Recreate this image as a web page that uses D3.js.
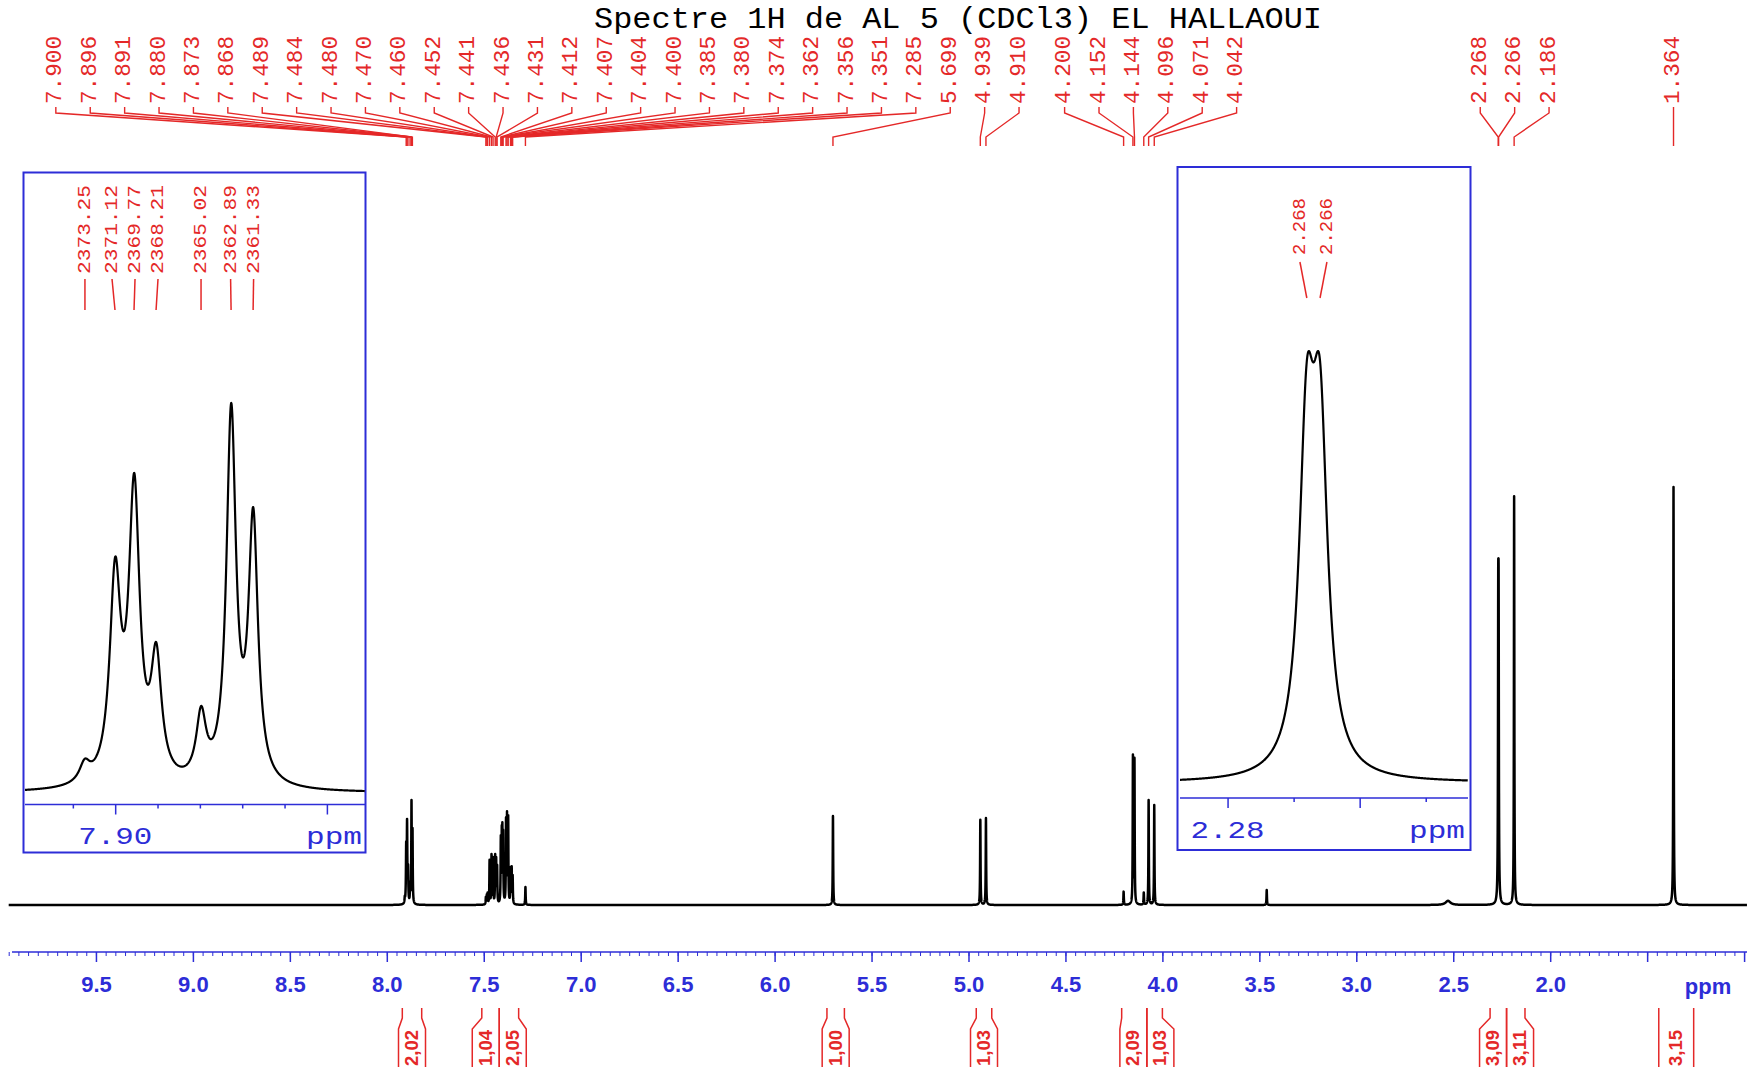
<!DOCTYPE html>
<html>
<head>
<meta charset="utf-8">
<script src="https://cdnjs.cloudflare.com/ajax/libs/d3/7.8.5/d3.min.js"></script>
<style>
body{margin:0;background:#fff;}
svg{display:block;}
</style>
</head>
<body>
<script>
var width = 1747, height = 1067;

var title = "Spectre 1H de AL 5 (CDCl3) EL HALLAOUI";
var sf = 300.14; // spectrometer freq, MHz

// peak list: shift (ppm), apparent height (a.u., singlet at 1.364 = 100), line width (ppm)
var peak_ppm = [7.9072, 7.9000, 7.8955, 7.8903, 7.8797, 7.8726, 7.8674,
	7.489, 7.484, 7.480, 7.470, 7.460, 7.452, 7.441, 7.436, 7.431,
	7.412, 7.407, 7.404, 7.400, 7.385, 7.380, 7.374, 7.362, 7.356, 7.351, 7.285,
	5.699, 4.939, 4.910, 4.200, 4.152, 4.144, 4.096, 4.071, 4.042,
	3.462, 2.527, 2.268, 2.266, 2.186, 1.364];
var peak_height = [2.2, 15.2, 20.6, 9.7, 5.6, 25.1, 18.4,
	2.0, 2.6, 3.0, 10.8, 12.2, 11.5, 12.2, 11.5, 9.6,
	16.7, 19.1, 19.8, 18.0, 21.0, 22.4, 21.5, 9.1, 9.3, 7.2, 4.3,
	21.3, 20.4, 20.8, 3.2, 36.0, 35.2, 3.0, 25.1, 23.9,
	3.6, 1.0, 81.1, 81.1, 97.8, 100];
var peak_width = [0.0030, 0.0031, 0.0031, 0.0030, 0.0028, 0.0027, 0.0027,
	0.0026, 0.0026, 0.0026, 0.0026, 0.0026, 0.0026, 0.0026, 0.0026, 0.0026,
	0.0026, 0.0026, 0.0026, 0.0026, 0.0026, 0.0026, 0.0026, 0.0026, 0.0026, 0.0026, 0.0026,
	0.0026, 0.0026, 0.0026, 0.0026, 0.0026, 0.0026, 0.0026, 0.0026, 0.0026,
	0.0026, 0.03, 0.0028, 0.0028, 0.0026, 0.0026];

var top_labels = ["7.900","7.896","7.891","7.880","7.873","7.868","7.489","7.484","7.480","7.470",
	"7.460","7.452","7.441","7.436","7.431","7.412","7.407","7.404","7.400","7.385","7.380","7.374",
	"7.362","7.356","7.351","7.285","5.699","4.939","4.910","4.200","4.152","4.144","4.096","4.071",
	"4.042","2.268","2.266","2.186","1.364"];

var inset1_hz = ["2373.25","2371.12","2369.77","2368.21","2365.02","2362.89","2361.33"];
var inset1_ticks = [7.91, 7.90, 7.89, 7.88, 7.87, 7.86, 7.85];
var inset1_major = [7.90, 7.85];
var inset1_tick_label = "7.90";

var inset2_labels = ["2.268","2.266"];
var inset2_ticks = [2.28, 2.27, 2.26, 2.25];
var inset2_major = [2.28, 2.26];
var inset2_tick_label = "2.28";

var axis_labels = ["9.5","9.0","8.5","8.0","7.5","7.0","6.5","6.0","5.5","5.0","4.5","4.0","3.5","3.0","2.5","2.0"];

var integral_from  = [7.92, 7.51, 7.42, 5.73, 4.96, 4.21, 4.08, 2.31, 2.225, 1.44];
var integral_to    = [7.82, 7.42, 7.32, 5.64, 4.88, 4.08, 4.00, 2.225, 2.13, 1.26];
var integral_value = ["2,02","1,04","2,05","1,00","1,03","2,09","1,03","3,09","3,11","3,15"];

var red = "rgb(228,40,40)", blue = "rgb(45,45,215)";

// ---- line shape ----
var amp = peak_height.slice();
function lor(p, c, w){ var t = 2*(p-c)/w; return 1/(1+t*t); }
function spec(p){
	var s = 0;
	for (var i=0;i<peak_ppm.length;i++){ s += amp[i]*lor(p, peak_ppm[i], peak_width[i]); }
	return s;
}
// adjust amplitudes so that summed curve hits the read heights
for (var it=0; it<80; it++){
	var cur = peak_ppm.map(spec);
	for (var i=0;i<amp.length;i++){ amp[i] = Math.max(0, amp[i] + 0.7*(peak_height[i]-cur[i])); }
}

var svg = d3.select("body").append("svg").attr("width", width).attr("height", height);
svg.append("rect").attr("width", width).attr("height", height).attr("fill", "#fff");

var xMain = d3.scaleLinear().domain([10.0, 0.985]).range([-1, 1747]);
var yMain = d3.scaleLinear().domain([0, 100]).range([905, 487]);

// title
svg.append("text").attr("x", 958).attr("y", 28).attr("text-anchor", "middle")
	.attr("font-family", "Liberation Mono, monospace").attr("font-size", 30)
	.attr("textLength", 728).attr("lengthAdjust", "spacingAndGlyphs")
	.text(title);

// main spectrum
var pts = d3.range(9.95, 0.985, -0.0004).concat(peak_ppm).sort(d3.descending);
var main_line = d3.line().x(function(p){return xMain(p)}).y(function(p){return yMain(spec(p))});
svg.append("path").attr("d", main_line(pts))
	.attr("fill", "none").attr("stroke", "#000").attr("stroke-width", 2.5)
	.attr("stroke-linejoin", "round");

// spread labels so they do not overlap; groups sit around the mean of their peaks
function spread(xs, gap, shift){
	var out = [];
	xs.forEach(function(x){
		out.push({sum:x, n:1, lo:x});
		while (out.length > 1){
			var b = out[out.length-1], a = out[out.length-2];
			if (a.lo + a.n*gap > b.lo){
				a.sum += b.sum; a.n += b.n; out.pop();
				a.lo = a.sum/a.n - (a.n-1)*gap/2 + shift;
			} else break;
		}
	});
	var pos = [];
	out.forEach(function(c){ for (var k=0;k<c.n;k++) pos.push(c.lo + k*gap); });
	return pos;
}

// top peak labels
var top_x = top_labels.map(function(s){return xMain(+s)});
var top_pos = spread(top_x, 34.4, 11);
var topG = svg.append("g");
topG.selectAll("text").data(top_labels).enter().append("text")
	.attr("transform", function(d,i){return "translate(" + top_pos[i] + ",104) rotate(-90)"})
	.attr("dominant-baseline", "central")
	.attr("font-family", "Liberation Mono, monospace").attr("font-size", 22)
	.attr("textLength", 68).attr("lengthAdjust", "spacingAndGlyphs")
	.attr("fill", red)
	.text(function(d){return d});
topG.selectAll("path").data(top_labels).enter().append("path")
	.attr("d", function(d,i){
		return d3.line()([[top_pos[i],107],[top_pos[i],113],[top_x[i],137],[top_x[i],146]]);
	})
	.attr("fill", "none").attr("stroke", red).attr("stroke-width", 1.4);

// main axis
var axisG = svg.append("g").attr("transform", "translate(0,952)").attr("color", blue);
axisG.append("line").attr("x1", 12).attr("x2", width).attr("stroke", blue).attr("stroke-width", 1.5);
var minor_ticks = d3.range(20, 200).map(function(i){return i*0.05});
var major_ticks = d3.range(2, 20).map(function(i){return i*0.5});
axisG.append("g").call(d3.axisBottom(xMain).tickValues(minor_ticks).tickSize(4).tickFormat(""))
	.call(function(g){g.select(".domain").remove()});
axisG.append("g").call(d3.axisBottom(xMain).tickValues(major_ticks).tickSize(10).tickPadding(14)
		.tickFormat(function(d){var s = d.toFixed(1); return axis_labels.indexOf(s) >= 0 ? s : ""}))
	.call(function(g){
		g.select(".domain").remove();
		g.selectAll("line").attr("stroke-width", 1.5);
		g.selectAll("text").attr("font-family", "Liberation Sans, Arial, sans-serif")
			.attr("font-weight", "bold").attr("font-size", 22).attr("fill", blue);
	});
axisG.append("text").attr("x", 1708).attr("y", 42).attr("text-anchor", "middle")
	.attr("font-family", "Liberation Sans, Arial, sans-serif").attr("font-weight", "bold")
	.attr("font-size", 22).attr("fill", blue).text("ppm");

// integrals
var intG = svg.append("g");
var bw = 27;
integral_from.forEach(function(f, i){
	var x1 = xMain(f), x2 = xMain(integral_to[i]);
	var shareR = i < integral_from.length-1 && integral_from[i+1] === integral_to[i];
	var shareL = i > 0 && integral_to[i-1] === f;
	var b1, b2;
	if (shareR){ b2 = x2; b1 = Math.min(x1, x2-bw); }
	else if (shareL){ b1 = x1; b2 = Math.max(x2, x1+bw); }
	else { var xc = (x1+x2)/2; b1 = Math.min(x1, xc-bw/2); b2 = Math.max(x2, xc+bw/2); }
	var ln = d3.line();
	intG.append("path").attr("d", ln([[x1,1008],[x1,1018],[b1,1029],[b1,1070]]))
		.attr("fill", "none").attr("stroke", red).attr("stroke-width", 1.5);
	intG.append("path").attr("d", ln([[x2,1008],[x2,1018],[b2,1029],[b2,1070]]))
		.attr("fill", "none").attr("stroke", red).attr("stroke-width", 1.5);
	intG.append("text")
		.attr("transform", "translate(" + ((b1+b2)/2) + ",1048) rotate(-90)")
		.attr("text-anchor", "middle").attr("dominant-baseline", "central")
		.attr("font-family", "Liberation Sans, Arial, sans-serif").attr("font-weight", "bold")
		.attr("font-size", 18).attr("textLength", 36).attr("lengthAdjust", "spacingAndGlyphs")
		.attr("fill", red).text(integral_value[i]);
});

// ---- insets ----
function draw_inset(o){
	var g = svg.append("g");
	g.append("rect").attr("x", o.box[0]).attr("y", o.box[1])
		.attr("width", o.box[2]-o.box[0]).attr("height", o.box[3]-o.box[1])
		.attr("fill", "#fff").attr("stroke", blue).attr("stroke-width", 2);
	var dom = o.x.domain();
	var step = (dom[0]-dom[1])/((o.x.range()[1]-o.x.range()[0])*4);
	var ip = d3.range(dom[0], dom[1], -step).concat(peak_ppm.filter(function(p){return p < dom[0] && p > dom[1]}))
		.sort(d3.descending);
	var ymax = d3.max(ip, spec);
	var y = d3.scaleLinear().domain([0, ymax]).range([o.yBase, o.yTop]);
	g.append("path").attr("d", d3.line().x(function(p){return o.x(p)}).y(function(p){return y(spec(p))})(ip))
		.attr("fill", "none").attr("stroke", "#000").attr("stroke-width", 2.2).attr("stroke-linejoin", "round");
	// axis
	var ax = g.append("g").attr("transform", "translate(0," + o.axisY + ")").attr("color", blue);
	ax.append("line").attr("x1", o.x.range()[0]).attr("x2", o.x.range()[1])
		.attr("stroke", blue).attr("stroke-width", 1.5);
	ax.append("g").call(d3.axisBottom(o.x).tickValues(o.ticks).tickSizeOuter(0)
			.tickSize(5).tickFormat(""))
		.call(function(s){
			s.select(".domain").remove();
			s.selectAll(".tick line").attr("y2", function(d){return o.major.indexOf(d) >= 0 ? 10 : 4})
				.attr("stroke-width", 1.5);
		});
	ax.append("text").attr("x", o.x(+o.tickLabel)).attr("y", o.labelY).attr("text-anchor", "middle")
		.attr("font-family", "Liberation Mono, monospace").attr("font-size", 24)
		.attr("textLength", 74).attr("lengthAdjust", "spacingAndGlyphs")
		.attr("fill", blue).text(o.tickLabel);
	ax.append("text").attr("x", o.x.range()[1]-3).attr("y", o.labelY).attr("text-anchor", "end")
		.attr("font-family", "Liberation Mono, monospace").attr("font-size", 24)
		.attr("textLength", 56).attr("lengthAdjust", "spacingAndGlyphs")
		.attr("fill", blue).text("ppm");
	// peak labels
	var lx = o.labelPpm.map(function(p){return o.x(p)});
	var pos = spread(lx, o.gap, 0);
	g.selectAll("text.pk").data(o.labels).enter().append("text").attr("class", "pk")
		.attr("transform", function(d,i){return "translate(" + pos[i] + "," + o.labelBottom + ") rotate(-90)"})
		.attr("dominant-baseline", "central")
		.attr("font-family", "Liberation Mono, monospace").attr("font-size", o.fontSize)
		.attr("textLength", o.labelLen).attr("lengthAdjust", "spacingAndGlyphs")
		.attr("fill", red).text(function(d){return d});
	g.selectAll("line.pk").data(o.labels).enter().append("line").attr("class", "pk")
		.attr("x1", function(d,i){return pos[i]}).attr("y1", o.lineTop)
		.attr("x2", function(d,i){return lx[i]}).attr("y2", o.lineBot)
		.attr("stroke", red).attr("stroke-width", 1.5);
}

draw_inset({
	box: [23.5, 172.5, 365.5, 852.5],
	x: d3.scaleLinear().domain([7.9213, 7.8410]).range([25, 365]),
	yBase: 793, yTop: 403, axisY: 804.5, labelY: 39,
	ticks: inset1_ticks, major: inset1_major, tickLabel: inset1_tick_label,
	labels: inset1_hz, labelPpm: inset1_hz.map(function(h){return +h/sf}),
	gap: 23, labelBottom: 274, labelLen: 89, fontSize: 18, lineTop: 279, lineBot: 310
});

var x2 = d3.scaleLinear().domain([2.2872, 2.2436]).range([1180, 1468]);
draw_inset({
	box: [1177.5, 167, 1470.5, 850],
	x: x2,
	yBase: 783, yTop: 351, axisY: 798, labelY: 40,
	ticks: inset2_ticks, major: inset2_major, tickLabel: inset2_tick_label,
	labels: inset2_labels, labelPpm: inset2_labels.map(Number),
	gap: 27, labelBottom: 255, labelLen: 57, fontSize: 18, lineTop: 262, lineBot: 298
});
</script>
</body>
</html>
